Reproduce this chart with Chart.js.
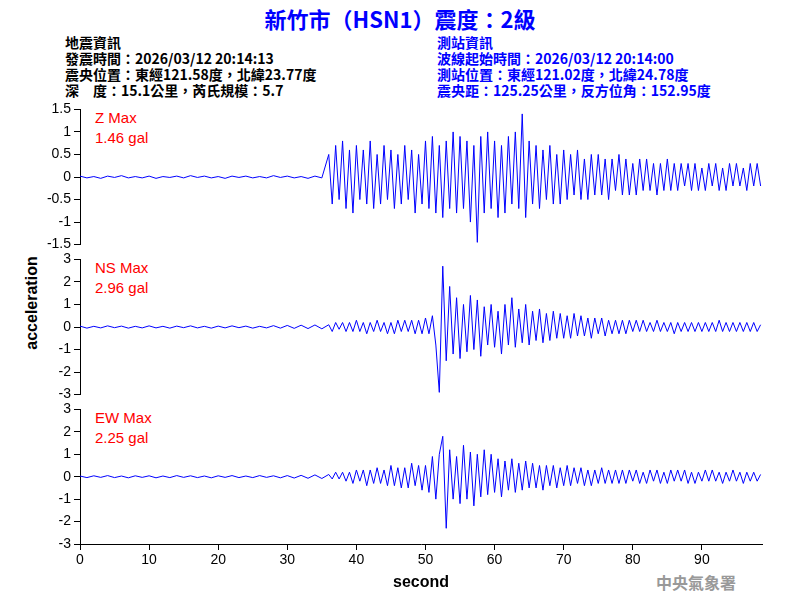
<!DOCTYPE html>
<html><head><meta charset="utf-8">
<script src="https://cdn.jsdelivr.net/npm/chart.js@4"></script>
<style>
body{margin:0;width:800px;height:600px;background:#fff;position:relative;overflow:hidden;font-family:"Liberation Sans",Arial,sans-serif}
canvas{position:absolute;left:0}
.t{position:absolute;white-space:pre;font-family:"Noto Sans CJK TC",sans-serif;font-weight:bold}
.r{position:absolute;color:#f00;font-size:15px;font-family:"Liberation Sans",Arial,sans-serif}
</style></head><body>
<div class="t" style="left:0;width:800px;text-align:center;top:2px;font-size:22px;color:#00f">新竹市（HSN1）震度：2級</div>
<div class="t" style="left:65px;top:34px;font-size:14px;line-height:16px;color:#000">地震資訊
發震時間：2026/03/12 20:14:13
震央位置：東經121.58度，北緯23.77度
深　度：15.1公里，芮氏規模：5.7</div>
<div class="t" style="left:437px;top:34px;font-size:14px;line-height:16px;color:#00f">測站資訊
波線起始時間：2026/03/12 20:14:00
測站位置：東經121.02度，北緯24.78度
震央距：125.25公里，反方位角：152.95度</div>
<div class="r" style="left:95px;top:109px">Z Max</div><div class="r" style="left:95px;top:129px">1.46 gal</div>
<div class="r" style="left:95px;top:259px">NS Max</div><div class="r" style="left:95px;top:279px">2.96 gal</div>
<div class="r" style="left:95px;top:409px">EW Max</div><div class="r" style="left:95px;top:429px">2.25 gal</div>
<div style="position:absolute;left:32px;top:303px;transform:translate(-50%,-50%) rotate(-90deg);font-size:16px;font-weight:bold">acceleration</div>
<div class="t" style="left:656px;top:570px;font-size:16px;color:#999">中央氣象署</div>
<canvas id="c1" width="770" height="158" style="top:98px"></canvas>
<canvas id="c2" width="770" height="158" style="top:248px"></canvas>
<canvas id="c3" width="770" height="202" style="top:398px"></canvas>
<script>
const quietStep=1, activeStart=36, activeStep=0.5;
const zQuiet=[0.02,-0.02,0.01,-0.03,0.02,-0.01,0.03,-0.02,0.01,-0.02,0.02,-0.03,0.01,-0.01,0.02,-0.02,0.03,-0.01,0.02,-0.02,0.01,-0.03,0.02,-0.01,0.02,-0.02,0.01,-0.02,0.03,-0.01,0.02,-0.02,0.01,-0.03,0.02,-0.02];
const nsQuiet=[0.04,-0.05,0.03,-0.04,0.05,-0.03,0.04,-0.05,0.03,-0.04,0.05,-0.04,0.03,-0.05,0.04,-0.03,0.05,-0.04,0.03,-0.05,0.04,-0.04,0.05,-0.03,0.04,-0.05,0.03,-0.04,0.06,-0.05,0.07,-0.06,0.08,-0.07,0.09,-0.08];
const ewQuiet=[0.03,-0.04,0.04,-0.03,0.05,-0.04,0.03,-0.05,0.04,-0.03,0.04,-0.05,0.03,-0.04,0.05,-0.03,0.04,-0.04,0.03,-0.05,0.04,-0.03,0.05,-0.04,0.03,-0.04,0.05,-0.03,0.04,-0.05,0.05,-0.06,0.06,-0.07,0.08,-0.08];
const zActive=[0.5,-0.6,0.7,-0.5,0.8,-0.7,0.6,-0.8,0.7,-0.5,0.6,-0.6,0.8,-0.7,0.5,-0.6,0.7,-0.5,0.6,-0.7,0.5,-0.6,0.7,-0.5,0.6,-0.8,0.5,-0.6,0.8,-0.7,0.9,-0.8,0.7,-0.9,0.8,-0.7,1.0,-0.8,0.9,-0.7,0.8,-1.0,0.7,-1.45,0.9,-0.8,1.0,-0.7,0.8,-0.9,0.7,-0.8,0.9,-0.6,1.0,-0.7,1.4,-0.9,0.8,-0.6,0.7,-0.7,0.6,-0.5,0.7,-0.6,0.5,-0.6,0.6,-0.5,0.5,-0.4,0.6,-0.5,0.4,-0.5,0.5,-0.4,0.5,-0.4,0.4,-0.5,0.4,-0.3,0.5,-0.4,0.4,-0.4,0.3,-0.4,0.4,-0.3,0.4,-0.3,0.3,-0.4,0.3,-0.3,0.4,-0.3,0.3,-0.3,0.3,-0.2,0.3,-0.3,0.3,-0.3,0.2,-0.3,0.3,-0.2,0.3,-0.3,0.2,-0.3,0.3,-0.2,0.3,-0.2,0.2,-0.3,0.3,-0.2,0.3,-0.2];
const nsActive=[0.1,-0.2,0.2,-0.1,0.2,-0.2,0.2,-0.2,0.3,-0.2,0.2,-0.3,0.2,-0.2,0.3,-0.2,0.2,-0.3,0.2,-0.3,0.3,-0.2,0.3,-0.2,0.3,-0.3,0.3,-0.3,0.4,-0.3,0.5,-0.8,-2.9,2.7,-1.5,1.8,-1.2,1.3,-1.4,1.0,-1.1,1.4,-1.0,1.2,-1.3,0.9,-0.8,1.0,-0.9,0.7,-1.2,1.0,-0.8,1.3,-0.9,0.8,-0.7,1.0,-0.8,0.7,-0.6,0.8,-0.7,0.6,-0.6,0.7,-0.5,0.6,-0.5,0.5,-0.5,0.6,-0.4,0.5,-0.4,0.4,-0.5,0.4,-0.3,0.4,-0.4,0.3,-0.3,0.3,-0.3,0.3,-0.3,0.3,-0.2,0.3,-0.2,0.3,-0.2,0.2,-0.2,0.3,-0.2,0.2,-0.2,0.2,-0.3,0.2,-0.2,0.2,-0.2,0.2,-0.2,0.2,-0.2,0.2,-0.2,0.2,-0.2,0.3,-0.2,0.2,-0.2,0.2,-0.2,0.2,-0.2,0.2,-0.2,0.2,-0.2,0.1];
const ewActive=[0.1,-0.1,0.2,-0.1,0.2,-0.2,0.2,-0.3,0.3,-0.2,0.3,-0.4,0.3,-0.3,0.4,-0.3,0.3,-0.4,0.5,-0.4,0.4,-0.5,0.4,-0.5,0.6,-0.4,0.5,-0.6,0.5,-0.7,0.9,-1.0,1.0,1.8,-2.3,1.2,-1.0,0.9,-1.2,1.4,-1.0,1.1,-1.3,1.0,-0.9,1.2,-0.8,1.0,-0.7,0.8,-0.9,0.7,-0.6,0.8,-0.7,0.6,-0.6,0.7,-0.5,0.6,-0.5,0.5,-0.6,0.5,-0.4,0.5,-0.5,0.4,-0.4,0.5,-0.4,0.4,-0.3,0.4,-0.4,0.3,-0.4,0.3,-0.3,0.4,-0.3,0.3,-0.3,0.3,-0.3,0.3,-0.3,0.3,-0.2,0.3,-0.3,0.2,-0.3,0.3,-0.2,0.3,-0.3,0.2,-0.3,0.3,-0.2,0.3,-0.2,0.3,-0.3,0.2,-0.3,0.2,-0.2,0.3,-0.2,0.3,-0.2,0.2,-0.3,0.2,-0.2,0.3,-0.2,0.2,-0.3,0.2,-0.2,0.2,-0.2,0.1];
const xTicks=[0,10,20,30,40,50,60,70,80,90];
const zTicks=[-1.5,-1,-0.5,0,0.5,1,1.5];
const accTicks=[-3,-2,-1,0,1,2,3];
function pts(q,a){const p=[];q.forEach((v,i)=>p.push({x:i*quietStep,y:v}));a.forEach((v,i)=>p.push({x:activeStart+i*activeStep,y:v}));return p;}
const font={family:"Liberation Sans",size:14};
function make(id,q,a,ticks,lim,showX){
 new Chart(document.getElementById(id),{type:'line',
 data:{datasets:[{data:pts(q,a),borderColor:'#0000ff',borderWidth:1,pointRadius:0,tension:0}]},
 options:{responsive:false,animation:false,devicePixelRatio:1,
  layout:{padding:{top:6,bottom:showX?0:1,right:8}},
  plugins:{legend:{display:false},tooltip:{enabled:false}},
  scales:{
   x:{type:'linear',min:0,max:98.7,display:showX,afterBuildTicks:s=>{s.ticks=xTicks.map(v=>({value:v}))},
     grid:{drawOnChartArea:false,color:'#000',tickLength:6},border:{color:'#000'},
     ticks:{color:'#000',font,autoSkip:false,maxRotation:0,padding:2},
     title:{display:true,text:'second',color:'#000',font:{family:"Liberation Sans",size:16,weight:'bold'},padding:{top:2,bottom:8}}},
   y:{min:-lim,max:lim,afterBuildTicks:s=>{s.ticks=ticks.map(v=>({value:v}))},afterFit:s=>{s.width=80},
     grid:{drawOnChartArea:false,color:'#000',tickLength:6},border:{color:'#000'},
     ticks:{color:'#000',font,autoSkip:false,callback:v=>String(v)}}
  }}});
}
make('c1',zQuiet,zActive,zTicks,1.5,false);
make('c2',nsQuiet,nsActive,accTicks,3,false);
make('c3',ewQuiet,ewActive,accTicks,3,true);
</script></body></html>
